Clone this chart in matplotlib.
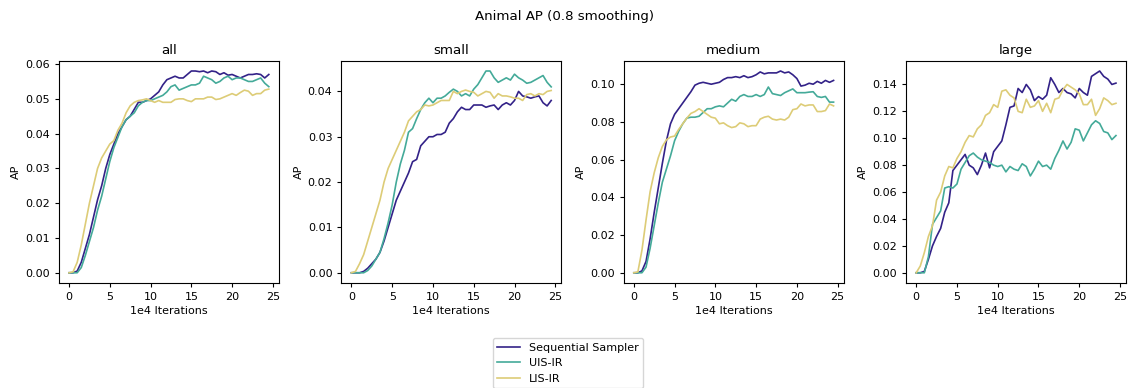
import numpy as np
import matplotlib
matplotlib.use("Agg")
import matplotlib.pyplot as plt
from matplotlib.ticker import MultipleLocator

# iterations (1e4), 0 .. 24.5
iters = np.arange(0, 25, 0.5)

labels = ["Sequential Sampler", "UIS-IR", "LIS-IR"]
colors = ["#332288", "#44AA99", "#DDCC77"]
panels = ["all", "small", "medium", "large"]

all_seq = [0, 0, 0.0005, 0.003, 0.007, 0.011, 0.016, 0.021, 0.025, 0.030,
           0.034, 0.037, 0.040, 0.042, 0.044, 0.045, 0.047, 0.049, 0.049, 0.0495,
           0.050, 0.051, 0.052, 0.054, 0.0555, 0.056, 0.0565, 0.056, 0.056, 0.057,
           0.058, 0.058, 0.0578, 0.058, 0.0575, 0.058, 0.0578, 0.057, 0.0575, 0.0568,
           0.057, 0.0565, 0.056, 0.0565, 0.057, 0.057, 0.0572, 0.057, 0.056, 0.057]
all_uis = [0, 0, 0, 0.0015, 0.005, 0.009, 0.013, 0.018, 0.022, 0.027,
           0.032, 0.036, 0.039, 0.042, 0.044, 0.045, 0.046, 0.048, 0.049, 0.0495,
           0.0495, 0.050, 0.0505, 0.051, 0.052, 0.0535, 0.054, 0.0525, 0.053, 0.0535,
           0.054, 0.054, 0.0545, 0.0565, 0.056, 0.0555, 0.0545, 0.055, 0.056, 0.0565,
           0.0555, 0.056, 0.056, 0.0555, 0.055, 0.055, 0.0555, 0.056, 0.0545, 0.0535]
all_lis = [0, 0.0003, 0.003, 0.008, 0.014, 0.020, 0.025, 0.030, 0.033, 0.035,
           0.037, 0.038, 0.041, 0.043, 0.046, 0.048, 0.049, 0.0495, 0.0497, 0.050,
           0.0495, 0.049, 0.0495, 0.049, 0.049, 0.049, 0.0498, 0.050, 0.050, 0.0495,
           0.0492, 0.050, 0.050, 0.050, 0.0505, 0.0505, 0.0498, 0.050, 0.0505, 0.051,
           0.0515, 0.051, 0.0518, 0.0525, 0.0522, 0.051, 0.0515, 0.0515, 0.0525, 0.0528]

small_seq = [0, 0, 0, 0.0003, 0.001, 0.002, 0.003, 0.0045, 0.007, 0.010,
             0.013, 0.016, 0.018, 0.020, 0.022, 0.0245, 0.025, 0.028, 0.029, 0.030,
             0.030, 0.0305, 0.0305, 0.031, 0.033, 0.034, 0.0355, 0.0365, 0.036, 0.036,
             0.037, 0.037, 0.037, 0.0365, 0.0368, 0.037, 0.036, 0.037, 0.0375, 0.037,
             0.038, 0.040, 0.039, 0.0388, 0.0385, 0.0388, 0.039, 0.0375, 0.0368, 0.038]
small_uis = [0, 0, 0, 0, 0.0005, 0.0015, 0.003, 0.0045, 0.0075, 0.011,
             0.015, 0.020, 0.024, 0.027, 0.031, 0.0318, 0.034, 0.036, 0.0375, 0.0385,
             0.0375, 0.0385, 0.0385, 0.039, 0.0398, 0.0405, 0.040, 0.039, 0.0395, 0.039,
             0.0405, 0.0415, 0.043, 0.0445, 0.0445, 0.043, 0.042, 0.0425, 0.043, 0.0425,
             0.0438, 0.043, 0.0425, 0.0418, 0.042, 0.0425, 0.043, 0.0435, 0.042, 0.041]
small_lis = [0, 0.0003, 0.002, 0.004, 0.007, 0.010, 0.013, 0.016, 0.020, 0.023,
             0.025, 0.027, 0.029, 0.031, 0.0335, 0.0345, 0.0355, 0.036, 0.037, 0.0368,
             0.037, 0.0375, 0.038, 0.038, 0.038, 0.040, 0.0395, 0.040, 0.0403, 0.040,
             0.0398, 0.039, 0.0395, 0.040, 0.0398, 0.0385, 0.0395, 0.039, 0.039, 0.0388,
             0.0385, 0.0385, 0.038, 0.0393, 0.0395, 0.039, 0.0395, 0.0393, 0.040, 0.0402]

medium_seq = [0, 0, 0.001, 0.006, 0.018, 0.032, 0.045, 0.058, 0.070, 0.079,
              0.084, 0.087, 0.090, 0.093, 0.096, 0.0995, 0.1005, 0.101, 0.1005, 0.100,
              0.1005, 0.101, 0.1025, 0.1035, 0.1035, 0.104, 0.1035, 0.1045, 0.1035, 0.104,
              0.105, 0.1065, 0.1055, 0.106, 0.106, 0.106, 0.107, 0.106, 0.1065, 0.105,
              0.103, 0.099, 0.0995, 0.1005, 0.100, 0.1015, 0.1005, 0.102, 0.101, 0.102]
medium_uis = [0, 0, 0, 0.003, 0.013, 0.025, 0.037, 0.048, 0.055, 0.062,
              0.070, 0.075, 0.079, 0.082, 0.0825, 0.0825, 0.083, 0.085, 0.087, 0.087,
              0.088, 0.0885, 0.088, 0.090, 0.092, 0.091, 0.0935, 0.0945, 0.0935, 0.0935,
              0.0945, 0.0935, 0.0945, 0.0985, 0.095, 0.0945, 0.094, 0.0955, 0.0965, 0.0975,
              0.0955, 0.0955, 0.0955, 0.0958, 0.096, 0.0935, 0.093, 0.0935, 0.0905, 0.0905]
medium_lis = [0, 0.0005, 0.012, 0.028, 0.043, 0.053, 0.061, 0.067, 0.0705, 0.072,
              0.0725, 0.076, 0.079, 0.082, 0.0845, 0.0855, 0.087, 0.0855, 0.084, 0.0825,
              0.082, 0.079, 0.0795, 0.078, 0.077, 0.0775, 0.0795, 0.079, 0.0775, 0.078,
              0.078, 0.0815, 0.0825, 0.083, 0.0815, 0.081, 0.0815, 0.081, 0.0825, 0.0865,
              0.087, 0.0895, 0.0885, 0.089, 0.089, 0.0855, 0.0855, 0.086, 0.0895, 0.0885]

large_seq = [0, 0, 0.001, 0.010, 0.020, 0.027, 0.033, 0.045, 0.052, 0.076,
             0.080, 0.084, 0.088, 0.080, 0.078, 0.073, 0.080, 0.089, 0.078, 0.090,
             0.094, 0.098, 0.110, 0.123, 0.124, 0.137, 0.134, 0.140, 0.136, 0.128,
             0.131, 0.129, 0.132, 0.145, 0.140, 0.134, 0.137, 0.134, 0.133, 0.130,
             0.137, 0.134, 0.132, 0.146, 0.148, 0.150, 0.146, 0.144, 0.140, 0.141]
large_uis = [0, 0, 0, 0.012, 0.036, 0.041, 0.046, 0.063, 0.064, 0.063,
             0.066, 0.077, 0.082, 0.087, 0.089, 0.086, 0.084, 0.083, 0.082, 0.080,
             0.079, 0.080, 0.075, 0.079, 0.077, 0.076, 0.081, 0.079, 0.072, 0.077,
             0.083, 0.079, 0.080, 0.077, 0.085, 0.091, 0.098, 0.092, 0.097, 0.107,
             0.106, 0.098, 0.104, 0.110, 0.113, 0.111, 0.105, 0.104, 0.099, 0.102]
large_lis = [0, 0.005, 0.015, 0.027, 0.035, 0.054, 0.060, 0.072, 0.079, 0.078,
             0.085, 0.090, 0.097, 0.102, 0.101, 0.107, 0.110, 0.117, 0.119, 0.125,
             0.123, 0.135, 0.136, 0.132, 0.130, 0.120, 0.119, 0.129, 0.123, 0.124,
             0.128, 0.120, 0.126, 0.119, 0.129, 0.130, 0.136, 0.140, 0.138, 0.136,
             0.133, 0.125, 0.125, 0.129, 0.117, 0.122, 0.130, 0.128, 0.125, 0.126]

data = {
    "all": [all_seq, all_uis, all_lis],
    "small": [small_seq, small_uis, small_lis],
    "medium": [medium_seq, medium_uis, medium_lis],
    "large": [large_seq, large_uis, large_lis],
}

# original was drawn bigger and scaled down, so everything is ~0.8x
plt.rcParams["font.size"] = 8
plt.rcParams["axes.linewidth"] = 0.8
plt.rcParams["xtick.major.width"] = 0.8
plt.rcParams["ytick.major.width"] = 0.8
plt.rcParams["xtick.major.size"] = 3
plt.rcParams["ytick.major.size"] = 3

fig, axes = plt.subplots(1, 4, figsize=(11.29, 3.88), dpi=100)
fig.subplots_adjust(left=0.0523, right=0.9973, top=0.843, bottom=0.271, wspace=0.285)

ystep = {"all": 0.01, "small": 0.01, "medium": 0.02, "large": 0.02}

for ax, name in zip(axes, panels):
    for series, lab, col in zip(data[name], labels, colors):
        ax.plot(iters, series, color=col, label=lab, linewidth=1.2)
    ax.set_title(name, fontsize=9.6, pad=4.8)
    ax.set_xlabel("1e4 Iterations", labelpad=3)
    ax.set_ylabel("AP", labelpad=3)
    ax.set_xticks([0, 5, 10, 15, 20, 25])
    ax.yaxis.set_major_locator(MultipleLocator(ystep[name]))
    ax.yaxis.set_major_formatter("{x:.2f}")

fig.suptitle("Animal AP (0.8 smoothing)", y=0.975, fontsize=9.6)
handles, labs = axes[0].get_legend_handles_labels()
fig.legend(handles, labs, loc="upper center", bbox_to_anchor=(0.503, 0.143))

fig.savefig("out.png", dpi=100)
